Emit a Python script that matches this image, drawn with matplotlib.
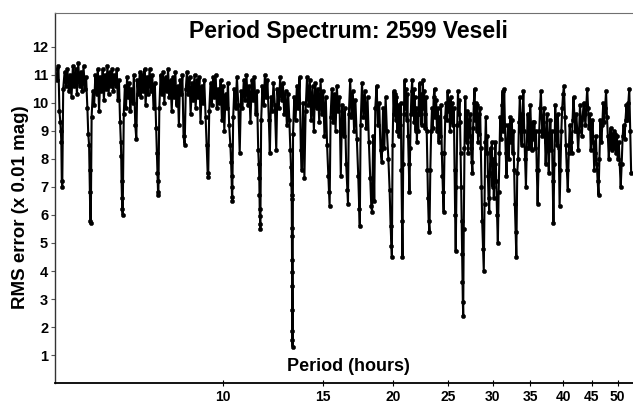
import matplotlib
matplotlib.use('Agg')
import matplotlib.pyplot as plt
import numpy as np

plt.rcParams['font.family'] = ['Liberation Sans', 'DejaVu Sans']
plt.rcParams['font.weight'] = 'bold'

title = 'Period Spectrum: 2599 Veseli'
xlab = 'Period (hours)'
ylab = 'RMS error (x 0.01 mag)'

xticks = [10, 15, 20, 25, 30, 35, 40, 45, 50]
yticks = [1, 2, 3, 4, 5, 6, 7, 8, 9, 10, 11, 12]

#------------------ period spectrum (hours, 0.01 mag)
p1 = [5.04, 5.08, 5.11, 5.13, 5.15, 5.16, 5.17, 5.18, 5.19, 5.21,
      5.24, 5.27, 5.30, 5.33, 5.36, 5.39, 5.42, 5.45, 5.48, 5.51,
      5.54, 5.57, 5.60, 5.63, 5.66, 5.69, 5.72, 5.75, 5.77, 5.79,
      5.80, 5.81, 5.82, 5.83, 5.85, 5.88, 5.91, 5.94, 5.97, 6.00,
      6.03, 6.06, 6.09, 6.12, 6.15, 6.18, 6.21, 6.24, 6.27, 6.30,
      6.33, 6.36, 6.39, 6.42, 6.45, 6.48, 6.51, 6.54, 6.57, 6.59,
      6.60, 6.61, 6.62, 6.63, 6.64, 6.67, 6.70, 6.73, 6.76, 6.79,
      6.82, 6.85, 6.88, 6.92, 6.95, 6.99, 7.02, 7.05, 7.08, 7.12,
      7.15, 7.19, 7.22, 7.26]
r1 = [11.2, 10.8, 11.3, 9.7, 9.3, 9.0, 8.6, 7.2, 7.0, 10.5,
      11.1, 10.6, 11.2, 10.4, 11.0, 10.2, 11.3, 10.6, 11.2, 10.3,
      11.4, 10.6, 11.1, 10.4, 11.3, 10.5, 10.9, 9.8, 8.9, 8.5,
      7.6, 6.8, 5.8, 5.7, 9.5, 10.4, 9.9, 11.0, 10.3, 11.2,
      9.7, 10.9, 10.4, 11.2, 10.1, 11.0, 10.5, 11.3, 10.3, 11.1,
      10.6, 11.2, 10.4, 11.0, 10.6, 11.2, 10.1, 10.8, 9.3, 8.6,
      8.1, 7.2, 6.6, 6.2, 6.0, 9.6, 10.6, 9.8, 10.9, 10.2,
      10.7, 9.7, 10.5, 10.0, 11.0, 9.2, 8.7, 10.8, 10.3, 11.1,
      10.2, 11.0, 10.4, 11.2]

p2 = [7.29, 7.33, 7.37, 7.41, 7.45, 7.49, 7.53, 7.57, 7.61, 7.63,
      7.65, 7.66, 7.67, 7.68, 7.71, 7.75, 7.79, 7.83, 7.87, 7.91,
      7.95, 7.99, 8.03, 8.07, 8.11, 8.15, 8.19, 8.23, 8.27, 8.31,
      8.35, 8.39, 8.43, 8.47, 8.51, 8.55, 8.59, 8.63, 8.67, 8.72,
      8.76, 8.81, 8.85, 8.90, 8.94, 8.99, 9.03, 9.08, 9.12, 9.17,
      9.22, 9.26, 9.31, 9.35, 9.39, 9.41, 9.45, 9.50, 9.55, 9.60,
      9.65, 9.70, 9.75, 9.80, 9.85, 9.90, 9.95]
r2 = [9.9, 10.9, 10.3, 11.2, 10.4, 11.0, 9.8, 10.7, 9.1, 8.2,
      7.5, 7.2, 6.8, 6.7, 9.8, 11.0, 10.3, 11.1, 10.0, 10.9,
      10.4, 11.2, 10.2, 10.8, 9.7, 10.9, 10.2, 11.1, 9.9, 10.6,
      9.2, 10.8, 10.3, 11.0, 8.8, 8.5, 10.5, 11.1, 10.3, 10.9,
      9.6, 10.7, 10.1, 11.0, 9.8, 10.8, 10.2, 10.9, 9.3, 10.6,
      10.0, 10.8, 9.5, 8.5, 7.5, 7.35, 9.7, 10.7, 9.9, 10.9,
      10.2, 11.0, 9.8, 10.5, 10.0, 10.8, 9.4]

p3 = [10.00, 10.05, 10.10, 10.15, 10.20, 10.25, 10.30, 10.33, 10.35, 10.36,
      10.37, 10.38, 10.42, 10.47, 10.52, 10.58, 10.64, 10.70, 10.76, 10.82,
      10.88, 10.94, 11.00, 11.06, 11.12, 11.18, 11.24, 11.30, 11.36, 11.42,
      11.48, 11.54, 11.57, 11.59, 11.60, 11.61, 11.62, 11.63, 11.64, 11.68,
      11.74, 11.80, 11.86, 11.92, 11.98, 12.05, 12.10, 12.16, 12.22, 12.28,
      12.35, 12.42, 12.48, 12.55, 12.62, 12.69, 12.76, 12.83, 12.90, 12.97,
      13.04, 13.10, 13.16, 13.19, 13.21, 13.22, 13.23, 13.235, 13.24, 13.245,
      13.25, 13.255, 13.26, 13.265, 13.27, 13.275]
r3 = [10.6, 9.0, 10.3, 9.8, 10.7, 9.2, 8.5, 7.9, 7.4, 7.0,
      6.65, 6.5, 9.5, 10.5, 9.8, 10.9, 9.9, 8.2, 10.4, 9.8,
      10.8, 10.1, 11.0, 9.9, 10.6, 9.3, 10.8, 10.1, 10.9, 9.6,
      10.4, 8.3, 7.8, 7.3, 6.7, 6.2, 5.95, 5.66, 5.5, 9.4,
      10.6, 9.9, 11.0, 10.2, 10.8, 9.4, 8.2, 10.2, 9.7, 10.7,
      9.9, 8.3, 10.5, 9.8, 10.9, 10.1, 10.7, 9.6, 10.4, 9.2,
      10.3, 9.4, 8.3, 7.7, 7.1, 6.7, 6.55, 5.55, 5.25, 4.4,
      3.95, 3.45, 2.6, 1.85, 1.55, 1.3]

p4 = [13.30, 13.37, 13.44, 13.51, 13.58, 13.66, 13.73, 13.78, 13.86, 13.93,
      14.00, 14.08, 14.16, 14.24, 14.32, 14.40, 14.48, 14.56, 14.64, 14.72,
      14.80, 14.88, 14.96, 15.04, 15.12, 15.20, 15.28, 15.36, 15.41, 15.44,
      15.50, 15.58, 15.66, 15.74, 15.82, 15.90, 15.98, 16.07, 16.16, 16.25,
      16.34, 16.43, 16.52, 16.60, 16.64, 16.70, 16.79, 16.88, 16.97, 17.06,
      17.15, 17.25, 17.35, 17.42, 17.46, 17.52, 17.62, 17.72, 17.82, 17.92,
      18.02, 18.12, 18.22, 18.30, 18.36, 18.44, 18.52, 18.60, 18.70, 18.80,
      18.90, 19.00, 19.10, 19.20, 19.30, 19.40, 19.50, 19.62, 19.72, 19.80,
      19.86, 19.90, 19.96, 20.04]
r4 = [8.9, 10.2, 9.4, 10.6, 9.8, 10.9, 8.3, 7.6, 10.0, 7.3,
      9.7, 10.9, 9.9, 10.8, 9.4, 10.6, 9.0, 10.7, 9.8, 10.5,
      9.3, 10.8, 9.6, 10.4, 8.8, 10.2, 8.5, 7.4, 6.8, 6.3,
      9.5, 10.5, 9.3, 10.3, 9.0, 10.6, 9.7, 10.2, 7.4, 9.9,
      8.8, 9.8, 7.8, 6.9, 6.4, 9.6, 10.8, 9.5, 10.4, 9.0,
      10.1, 8.7, 7.4, 6.2, 5.6, 9.2, 10.7, 9.5, 10.4, 9.1,
      10.2, 8.6, 7.3, 6.3, 6.1, 8.8, 6.5, 9.8, 10.6, 9.2,
      10.0, 8.3, 7.9, 9.8, 8.4, 10.2, 9.0, 8.0, 6.9, 5.6,
      4.9, 4.5, 8.5, 10.4]

p5 = [20.10, 20.16, 20.22, 20.28, 20.34, 20.40, 20.46, 20.52, 20.58, 20.64,
      20.69, 20.74, 20.78, 20.84, 20.90, 20.96, 21.02, 21.08, 21.14, 21.20,
      21.26, 21.32, 21.38, 21.44, 21.50, 21.56, 21.62, 21.68, 21.74, 21.80,
      21.86, 21.92, 21.98, 22.04, 22.10, 22.16, 22.22, 22.28, 22.34, 22.40,
      22.46, 22.52, 22.58, 22.64, 22.70, 22.76, 22.82, 22.88, 22.94, 23.00,
      23.06, 23.12, 23.20, 23.28, 23.36, 23.44, 23.52, 23.60, 23.68, 23.76,
      23.84, 23.92, 24.00, 24.08, 24.16, 24.24, 24.32, 24.40, 24.46, 24.52,
      24.58, 24.66, 24.74, 24.82, 24.90, 24.98, 25.06, 25.14, 25.22, 25.30,
      25.38, 25.46, 25.54, 25.62, 25.70, 25.76, 25.82, 25.90, 25.98, 26.06,
      26.14, 26.22, 26.28, 26.34, 26.40, 26.45, 26.50, 26.54, 26.58, 26.62,
      26.68, 26.76, 26.84, 26.92, 27.00, 27.08, 27.16, 27.24, 27.32, 27.40,
      27.48, 27.56, 27.64, 27.72, 27.80, 27.88, 27.96, 28.04, 28.12, 28.20,
      28.28, 28.36, 28.44, 28.52, 28.60, 28.68, 28.76, 28.86, 28.95, 29.04,
      29.12, 29.20, 29.28, 29.36, 29.44, 29.52, 29.60, 29.68, 29.76, 29.84,
      29.92, 30.00, 30.08, 30.16, 30.26, 30.36, 30.46, 30.56, 30.66, 30.76,
      30.86, 30.96]
r5 = [9.6, 10.3, 9.4, 10.2, 9.0, 9.9, 8.8, 9.8, 9.2, 10.0,
      7.6, 5.8, 4.5, 7.8, 9.6, 10.8, 9.8, 10.5, 9.4, 10.3,
      8.8, 7.8, 6.8, 8.4, 9.6, 10.4, 10.8, 9.7, 10.5, 9.3,
      10.2, 9.0, 9.8, 8.6, 9.6, 9.0, 10.2, 10.7, 9.6, 10.3,
      9.2, 10.0, 10.8, 9.8, 10.4, 9.1, 9.6, 10.2, 9.0, 7.6,
      6.6, 5.8, 5.4, 7.6, 9.0, 9.8, 9.1, 10.2, 10.5, 9.5,
      10.1, 9.0, 9.8, 8.6, 9.5, 8.8, 9.9, 8.2, 7.4, 6.8,
      6.1, 8.2, 9.5, 10.0, 9.4, 10.4, 9.7, 10.1, 9.0, 10.2,
      9.3, 10.0, 9.2, 9.8, 7.6, 6.0, 4.7, 7.0, 9.2, 10.4,
      9.6, 10.1, 9.3, 8.2, 7.0, 5.8, 4.6, 3.6, 2.9, 2.4,
      5.5, 8.4, 10.2, 9.2, 8.6, 9.7, 8.2, 9.4, 8.8, 9.6,
      8.4, 7.9, 7.5, 9.1, 10.0, 10.5, 9.4, 10.0, 9.0, 9.9,
      8.6, 9.6, 8.9, 9.8, 8.4, 7.0, 5.8, 4.8, 4.0, 6.4,
      8.6, 9.5, 8.2, 8.8, 7.4, 6.6, 6.1, 7.5, 8.4, 7.8,
      8.6, 7.0, 8.0, 6.6, 7.8, 8.6, 7.2, 6.0, 5.0, 6.8,
      8.2, 9.5]

p6 = [31.06, 31.16, 31.26, 31.36, 31.46, 31.56, 31.66, 31.76, 31.86, 31.96,
      32.06, 32.16, 32.26, 32.36, 32.46, 32.56, 32.66, 32.76, 32.86, 32.96,
      33.06, 33.18, 33.30, 33.42, 33.54, 33.66, 33.78, 33.90, 34.02, 34.14,
      34.26, 34.38, 34.50, 34.62, 34.74, 34.86, 34.98, 35.10, 35.22, 35.34,
      35.46, 35.58, 35.70, 35.82, 35.94, 36.06, 36.18, 36.30, 36.42, 36.54,
      36.66, 36.78, 36.90, 37.02, 37.14, 37.26, 37.38, 37.50, 37.62, 37.74,
      37.86, 37.98, 38.10, 38.22, 38.34, 38.46, 38.60, 38.74, 38.88, 39.02,
      39.16, 39.30, 39.44, 39.58, 39.72, 39.86, 40.00, 40.14, 40.30, 40.46,
      40.62, 40.78, 40.94, 41.10, 41.26, 41.42, 41.58, 41.74, 41.90, 42.06,
      42.22, 42.38, 42.54, 42.70, 42.86, 43.02, 43.18, 43.34, 43.50, 43.66,
      43.82, 43.98, 44.14, 44.30, 44.46, 44.62, 44.78, 44.94, 45.10, 45.26,
      45.42, 45.58, 45.74, 45.90, 46.06, 46.22, 46.40, 46.58, 46.76, 46.94,
      47.12, 47.30, 47.48, 47.66, 47.84, 48.02, 48.20, 48.38, 48.56, 48.74,
      48.92, 49.10, 49.28, 49.46, 49.64, 49.82, 50.00, 50.20, 50.40, 50.60,
      50.80, 51.00, 51.20, 51.40, 51.60, 51.80, 52.00, 52.20, 52.40, 52.60,
      52.80]
r6 = [8.7, 9.9, 10.4, 9.0, 10.5, 9.2, 8.2, 7.4, 8.6, 9.2,
      8.0, 9.0, 9.5, 8.6, 9.4, 8.2, 9.0, 7.6, 6.4, 5.4,
      4.5, 7.5, 8.0, 9.3, 10.2, 9.0, 8.5, 9.6, 10.4, 9.0,
      8.0, 7.0, 8.4, 9.6, 8.9, 8.4, 9.9, 9.2, 8.3, 9.3,
      8.7, 9.3, 8.4, 9.0, 7.6, 6.4, 7.6, 9.0, 9.8, 10.4,
      9.5, 8.8, 9.3, 9.8, 8.9, 7.8, 8.6, 9.6, 8.4, 7.5,
      8.8, 9.4, 8.3, 9.0, 7.2, 5.7, 7.8, 9.9, 9.0, 8.5,
      9.6, 8.4, 6.3, 7.6, 9.0, 9.8, 10.3, 10.6, 9.5, 8.5,
      7.6, 6.9, 8.2, 9.2, 8.6, 8.2, 9.4, 10.2, 9.5, 9.0,
      9.6, 9.0, 8.3, 9.0, 9.9, 9.4, 8.8, 9.5, 10.0, 9.6,
      9.2, 9.9, 10.5, 9.8, 9.1, 9.6, 8.3, 8.8, 9.4, 8.6,
      7.6, 8.2, 8.8, 7.8, 7.2, 6.7, 8.0, 9.4, 8.6, 9.2,
      10.0, 9.3, 9.8, 10.4, 9.5, 8.8, 8.0, 8.7, 9.1, 8.3,
      8.9, 8.4, 9.0, 8.9, 8.2, 8.8, 8.0, 8.6, 7.8, 7.0,
      7.8, 8.8, 9.2, 8.7, 9.4, 9.9, 9.4, 10.0, 10.5, 9.0,
      7.5]

period = np.concatenate([p1, p2, p3, p4, p5, p6])
rms = np.concatenate([r1, r2, r3, r4, r5, r6])

#------------------
fig = plt.figure(figsize=(6.33, 4.03), dpi=100)
ax0 = fig.add_axes([0.087, 0.049, 0.913, 0.919])

ax0.plot(period, rms, '-', color='k', lw=1.5, solid_joinstyle='miter',
         marker='o', ms=3.0, mfc='k', mec='k', mew=0.4)

ax0.set_xscale('log')
ax0.set_xlim(5.04, 53.2)
ax0.set_ylim(0.0, 13.2)

ax0.set_xticks(xticks)
ax0.set_xticklabels([str(v) for v in xticks])
ax0.xaxis.set_minor_locator(matplotlib.ticker.NullLocator())
ax0.set_yticks(yticks)

ax0.tick_params(axis='x', direction='inout', length=5, width=0.8,
                labelsize=10, pad=2, colors='k')
ax0.tick_params(axis='y', direction='out', length=3, width=0.8,
                labelsize=10.5, pad=2, color='#555555')

ax0.spines['right'].set_visible(False)
ax0.spines['top'].set_color('#707070')
ax0.spines['left'].set_color('#333333')
ax0.spines['bottom'].set_color('k')
ax0.spines['bottom'].set_linewidth(1.3)
ax0.spines['left'].set_linewidth(1.0)

ax0.text(0.507, 0.951, title, transform=ax0.transAxes, ha='center',
         va='center', fontsize=16.5, fontweight='bold')
ax0.text(0.507, 0.046, xlab, transform=ax0.transAxes, ha='center',
         va='center', fontsize=13, fontweight='bold')
fig.text(0.032, 0.486, ylab, rotation=90, ha='center', va='center',
         fontsize=13.5, fontweight='bold')

plt.savefig('out.png', dpi=100)
